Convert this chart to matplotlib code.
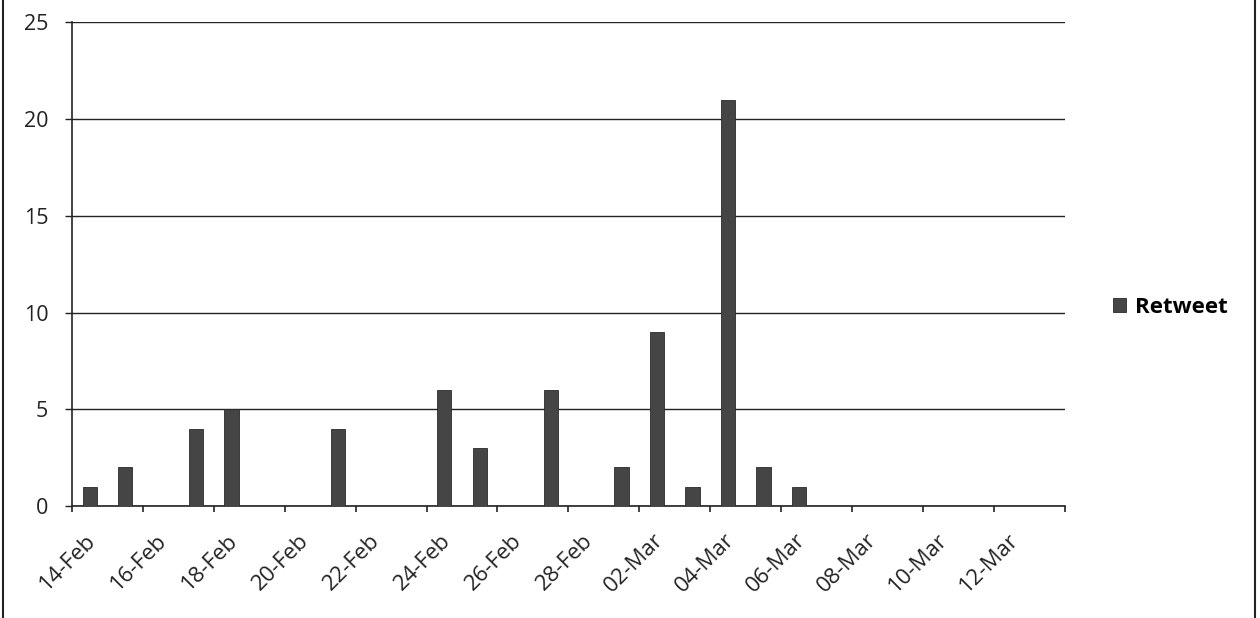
import numpy as np
import pandas as pd
import matplotlib
matplotlib.use("Agg")
import matplotlib.pyplot as plt
import matplotlib.transforms as mtransforms
from matplotlib.patches import Rectangle

# retweet counts per day
days = ["2013-02-14", "2013-02-15", "2013-02-17", "2013-02-18", "2013-02-21",
        "2013-02-24", "2013-02-25", "2013-02-27", "2013-03-01", "2013-03-02",
        "2013-03-03", "2013-03-04", "2013-03-05", "2013-03-06"]
retweets = [1, 2, 4, 5, 4, 6, 3, 6, 2, 9, 1, 21, 2, 1]
x_start, x_end = "2013-02-14", "2013-03-14"
y_ticks = [0, 5, 10, 15, 20, 25]

plt.rcParams["font.family"] = ["Open Sans", "DejaVu Sans"]

fig = plt.figure(figsize=(12.6, 6.18), dpi=100)
ax = fig.add_axes([0.0571, 0.181, 0.788, 0.783])

dates = pd.to_datetime(days) + pd.Timedelta(hours=12)  # Excel puts bars between ticks
ax.bar(dates, retweets, width=0.4, color="#454545", edgecolor="#2a2a2a",
       linewidth=0.6, label="Retweet", zorder=3)

ax.set_xlim(pd.Timestamp(x_start), pd.Timestamp(x_end))
ax.set_ylim(0, 25)
ax.set_yticks(y_ticks)
ax.yaxis.grid(True, color="#222222", linewidth=1.0, zorder=1)

for s in ["top", "right"]:
    ax.spines[s].set_visible(False)
for s in ["left", "bottom"]:
    ax.spines[s].set_color("#222222")
    ax.spines[s].set_linewidth(1.2)

ax.tick_params(axis="x", direction="out", length=4.3, width=1.2, color="#222222",
               labelsize=16, pad=18, labelcolor="#222222")
ax.tick_params(axis="y", direction="out", length=5, width=1.0, color="#222222",
               labelsize=15.5, pad=12, labelcolor="#222222")

ticks = pd.date_range(x_start, x_end, freq="2D")
ax.set_xticks(ticks)
labels = [d.strftime("%d-%b") for d in ticks[:-1]] + [""]
ax.set_xticklabels(labels)
shift = mtransforms.ScaledTranslation(0.21, 0, fig.dpi_scale_trans)
for lab in ax.get_xticklabels():
    lab.set_rotation(45)
    lab.set_ha("right")
    lab.set_va("center")
    lab.set_rotation_mode("anchor")
    lab.set_transform(lab.get_transform() + shift)

leg = ax.legend(loc="center left", bbox_to_anchor=(1.037, 0.41), frameon=False,
                borderpad=0, handlelength=0.6, handleheight=0.6, handletextpad=0.4,
                prop={"size": 16, "weight": "bold"})

# outer chart border
fig.patches.append(Rectangle((0.0025, -0.02), 0.9935, 1.1, transform=fig.transFigure,
                             fill=False, edgecolor="#222222", linewidth=1.5))

fig.savefig("out.png", dpi=100)
